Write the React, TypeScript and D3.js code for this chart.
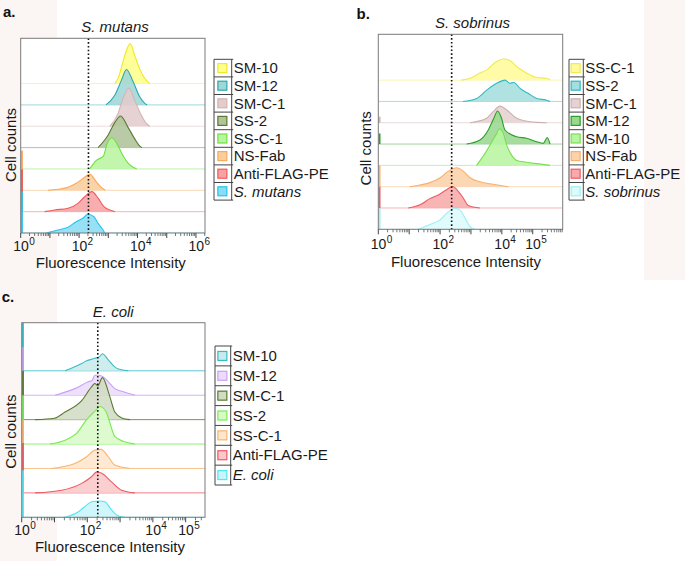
import React from "react";
import * as d3 from "d3";

type Pt = [number, number]; // [log10 fluorescence, cell count (row step = 100)]

// ---------- Panel a: S. mutans ----------
const mutansSeries = ["SM-10", "SM-12", "SM-C-1", "SS-2", "SS-C-1", "NS-Fab", "Anti-FLAG-PE", "S. mutans"];
const mutansCurves: Pt[][] = [
  [[3.22, 0], [3.33, 23], [3.5, 101], [3.62, 156], [3.75, 187], [3.9, 133], [4.07, 70], [4.25, 23], [4.42, 0]],
  [[2.92, 0], [3.22, 45], [3.45, 116], [3.62, 166], [3.85, 108], [4.08, 37], [4.25, 7], [4.33, 0]],
  [[3.05, 0], [3.33, 59], [3.5, 130], [3.71, 178], [3.9, 122], [4.13, 52], [4.3, 13], [4.42, 0]],
  [[2.65, 0], [2.99, 58], [3.22, 117], [3.42, 148], [3.67, 96], [3.9, 42], [4.08, 7], [4.15, 0]],
  [[2.36, 0], [2.59, 40], [2.83, 60], [2.95, 115], [3.12, 146], [3.35, 104], [3.52, 58], [3.69, 25], [3.97, 0]],
  [[0.93, 0], [1.28, 5], [1.62, 14], [1.9, 33], [2.19, 61], [2.36, 76], [2.59, 40], [2.76, 14], [2.9, 0]],
  [[0.82, 0], [1.16, 8], [1.62, 16], [1.96, 39], [2.19, 70], [2.44, 94], [2.65, 63], [2.85, 23], [3.1, 5], [3.22, 0]],
  [[0.88, 0], [1.28, 14], [1.62, 27], [1.9, 53], [2.02, 61], [2.13, 69], [2.3, 88], [2.51, 76], [2.65, 45], [2.82, 14], [2.88, 0]],
];
const mutansSpikes = [0, 0, 0, 0, 0, 187, 197, 193];
const mutansTickLabels = [0, 2, 4, 6];
const mutansFill = ["#ffff8c", "#9fd6d6", "#e3cccc", "#afc49a", "#b8f5a0", "#fbcd9c", "#f7a3a3", "#8adcf5"];
const mutansStroke = ["#ecea2a", "#2aa8b0", "#d4b4b4", "#5a7a30", "#70e040", "#f8aa5c", "#ef5a5a", "#22c4ee"];

// ---------- Panel b: S. sobrinus ----------
const sobrinusSeries = ["SS-C-1", "SS-2", "SM-C-1", "SM-12", "SM-10", "NS-Fab", "Anti-FLAG-PE", "S. sobrinus"];
const sobrinusCurves: Pt[][] = [
  [[2.7, 0], [2.97, 9], [3.29, 33], [3.51, 48], [3.83, 87], [4.05, 99], [4.26, 92], [4.48, 64], [4.8, 33], [5.13, 12], [5.45, 9], [5.56, 0]],
  [[2.74, 0], [3.18, 14], [3.51, 53], [3.83, 85], [4.1, 100], [4.26, 85], [4.39, 89], [4.59, 61], [4.85, 38], [5.13, 14], [5.45, 6], [5.56, 0]],
  [[2.97, 0], [3.51, 21], [3.72, 52], [3.94, 78], [4.16, 60], [4.48, 21], [4.91, 5], [5.45, 0]],
  [[2.86, 0], [3.29, 19], [3.56, 66], [3.74, 121], [3.86, 155], [3.99, 121], [4.1, 66], [4.48, 34], [4.8, 27], [5.13, 11], [5.34, 3], [5.47, 31], [5.56, 0]],
  [[3.18, 0], [3.45, 55], [3.61, 94], [3.83, 149], [3.92, 172], [4.05, 149], [4.16, 94], [4.32, 47], [4.48, 23], [4.8, 15], [5.13, 8], [5.56, 0]],
  [[1.02, 0], [1.35, 8], [1.67, 19], [2.0, 42], [2.27, 73], [2.54, 89], [2.75, 73], [2.97, 42], [3.29, 23], [3.72, 11], [4.21, 0]],
  [[0.97, 0], [1.35, 15], [1.67, 44], [2.0, 66], [2.21, 86], [2.41, 101], [2.59, 78], [2.75, 47], [2.91, 12], [3.29, 0]],
  [[1.28, 0], [1.67, 23], [2.0, 44], [2.21, 75], [2.48, 99], [2.64, 91], [2.81, 52], [2.97, 12], [3.13, 0]],
];
const sobrinusSpikes = [0, 0, 28, 50, 0, 100, 100, 100];
const sobrinusTickLabels = [0, 2, 4, 5];
const sobrinusFill = ["#fffa9a", "#a5dede", "#e6d2d2", "#9ad890", "#b8f5a0", "#fbd2aa", "#f8aaaa", "#dcfcfc"];
const sobrinusStroke = ["#f2ea50", "#30b8c4", "#cdb0b0", "#2aa02a", "#78e050", "#f8b070", "#ef5a64", "#9af0f5"];

// ---------- Panel c: E. coli ----------
const coliSeries = ["SM-10", "SM-12", "SM-C-1", "SS-2", "SS-C-1", "Anti-FLAG-PE", "E. coli"];
const coliCurves: Pt[][] = [
  [[1.32, 0], [1.83, 30], [1.98, 41], [2.23, 51], [2.39, 60], [2.46, 70], [2.64, 45], [2.82, 18], [2.95, 7], [3.25, 0]],
  [[1.02, 0], [1.62, 27], [2.03, 55], [2.15, 61], [2.23, 82], [2.34, 82], [2.49, 75], [2.64, 55], [2.84, 27], [3.05, 16], [3.45, 0]],
  [[0.41, 0], [1.0, 6], [1.32, 31], [1.83, 78], [2.13, 134], [2.23, 148], [2.32, 138], [2.46, 172], [2.69, 93], [2.84, 31], [3.05, 7], [3.3, 0]],
  [[0.86, 0], [1.32, 16], [1.68, 45], [1.98, 100], [2.23, 134], [2.39, 154], [2.59, 127], [2.69, 86], [2.84, 31], [3.1, 11], [3.45, 0]],
  [[0.91, 0], [1.62, 20], [1.98, 48], [2.23, 75], [2.42, 78], [2.64, 48], [2.84, 14], [3.3, 0]],
  [[0.41, 0], [1.22, 11], [1.83, 39], [2.13, 66], [2.29, 86], [2.44, 80], [2.74, 45], [3.05, 11], [3.45, 0]],
  [[1.32, 0], [1.73, 23], [1.98, 50], [2.13, 64], [2.39, 67], [2.54, 64], [2.74, 30], [2.95, 5], [3.15, 0]],
];
const coliSpikes = [197, 197, 200, 200, 197, 204, 193];
const coliTickLabels = [0, 2, 4, 5];
const coliFill = ["#c8eaea", "#ecdcfa", "#d2dcc3", "#d8fac8", "#ffe6cd", "#fac8c8", "#c8f5fa"];
const coliStroke = ["#35bcc8", "#c8a0f5", "#5a7a30", "#78eb50", "#f8b46e", "#ef5a64", "#50e6f5"];

const FONT = "'Liberation Sans', Arial, Helvetica, sans-serif";

interface PanelCfg {
  id: string;
  label: string;
  title: string;
  series: string[];
  curves: Pt[][];
  spikes: number[];
  ticks: number[];
  fill: string[];
  stroke: string[];
  left: number; right: number; top: number; bottom: number;
  xMax: number; yMax: number; gate: number;
  legX: number; legDiv: number; legY: number; legRow: number;
  titleX: number; titleY: number; labelX: number; labelY: number;
  xLabX: number; xLabY: number; yLabX: number; yLabY: number; tickY: number;
  baseOpacity: number;
}

const panels: PanelCfg[] = [
  {
    id: "a", label: "a.", title: "S. mutans", series: mutansSeries, curves: mutansCurves, spikes: mutansSpikes,
    ticks: mutansTickLabels, fill: mutansFill, stroke: mutansStroke,
    left: 20.7, right: 205, top: 38.3, bottom: 233, xMax: 6.31, yMax: 912, gate: 2.32,
    legX: 214, legDiv: 231.7, legY: 59.3, legRow: 17.6,
    titleX: 115, titleY: 31.5, labelX: 3, labelY: 16.5, xLabX: 110.8, xLabY: 267.5, yLabX: 15.5, yLabY: 145, tickY: 251,
    baseOpacity: 0.45,
  },
  {
    id: "b", label: "b.", title: "S. sobrinus", series: sobrinusSeries, curves: sobrinusCurves, spikes: sobrinusSpikes,
    ticks: sobrinusTickLabels, fill: sobrinusFill, stroke: sobrinusStroke,
    left: 378.3, right: 562.7, top: 34.3, bottom: 229.3, xMax: 5.97, yMax: 915, gate: 2.375,
    legX: 569, legDiv: 583.3, legY: 59.3, legRow: 17.6,
    titleX: 472.5, titleY: 28, labelX: 356.5, labelY: 18.5, xLabX: 466, xLabY: 267, yLabX: 371, yLabY: 148.3, tickY: 248.5,
    baseOpacity: 0.45,
  },
  {
    id: "c", label: "c.", title: "E. coli", series: coliSeries, curves: coliCurves, spikes: coliSpikes,
    ticks: coliTickLabels, fill: coliFill, stroke: coliStroke,
    left: 21.7, right: 205, top: 322.7, bottom: 517.3, xMax: 5.59, yMax: 797, gate: 2.32,
    legX: 215, legDiv: 230.7, legY: 346, legRow: 19.86,
    titleX: 113.3, titleY: 316.5, labelX: 1.7, labelY: 301.5, xLabX: 110, xLabY: 552, yLabX: 15.5, yLabY: 431.7, tickY: 535,
    baseOpacity: 0.8,
  },
];

function Panel({ cfg }: { cfg: PanelCfg }) {
  const x = d3.scaleLinear().domain([0, cfg.xMax]).range([cfg.left, cfg.right]);
  const y = d3.scaleLinear().domain([0, cfg.yMax]).range([cfg.bottom, cfg.top]);
  const n = cfg.series.length;
  const off = (i: number) => (n - 1 - i) * 100;

  const minor: number[] = [];
  for (let d = 0; d <= Math.floor(cfg.xMax); d++) {
    for (let k = 2; k <= 9; k++) {
      const v = d + Math.log10(k);
      if (v < cfg.xMax) minor.push(v);
    }
  }
  const major = d3.range(0, Math.floor(cfg.xMax) + 1);
  const clipId = `clip-${cfg.id}`;

  return (
    <g>
      <defs>
        <clipPath id={clipId}>
          <rect x={cfg.left} y={cfg.top} width={cfg.right - cfg.left} height={cfg.bottom - cfg.top} />
        </clipPath>
      </defs>
      <rect x={cfg.left} y={cfg.top} width={cfg.right - cfg.left} height={cfg.bottom - cfg.top} fill="#fff" />
      <g clipPath={`url(#${clipId})`}>
        {cfg.curves.map((pts, i) => {
          const o = off(i);
          const area = d3
            .area<Pt>()
            .x((d) => x(d[0]))
            .y0(y(o))
            .y1((d) => y(o + d[1]))
            .curve(d3.curveMonotoneX);
          const line = d3
            .line<Pt>()
            .x((d) => x(d[0]))
            .y((d) => y(o + d[1]))
            .curve(d3.curveMonotoneX);
          return (
            <g key={i}>
              <line x1={cfg.left} x2={cfg.right} y1={y(o)} y2={y(o)} stroke={cfg.stroke[i]} strokeOpacity={cfg.baseOpacity} strokeWidth={1} />
              <path d={area(pts) || ""} fill={cfg.fill[i]} fillOpacity={0.88} />
              <path d={line(pts) || ""} fill="none" stroke={cfg.stroke[i]} strokeWidth={1.1} />
              {cfg.spikes[i] > 0 && (
                <line x1={x(0) + 1.2} x2={x(0) + 1.2} y1={y(o)} y2={y(o + cfg.spikes[i])} stroke={cfg.stroke[i]} strokeWidth={2} />
              )}
            </g>
          );
        })}
      </g>
      <line x1={x(cfg.gate)} x2={x(cfg.gate)} y1={cfg.top} y2={cfg.bottom} stroke="#111" strokeWidth={1.6} strokeDasharray="1.6,2.2" />
      <rect x={cfg.left} y={cfg.top} width={cfg.right - cfg.left} height={cfg.bottom - cfg.top} fill="none" stroke="#7a7a7a" strokeWidth={1} />
      {major.map((v) => (
        <line key={"M" + v} x1={x(v)} x2={x(v)} y1={cfg.bottom} y2={cfg.bottom + 5} stroke="#444" strokeWidth={1} />
      ))}
      {minor.map((v, k) => (
        <line key={"m" + k} x1={x(v)} x2={x(v)} y1={cfg.bottom} y2={cfg.bottom + 3} stroke="#555" strokeWidth={0.8} />
      ))}
      {cfg.ticks.map((v) => (
        <g key={"t" + v}>
          <text x={x(v) + 0.3} y={cfg.tickY} textAnchor="middle" fontSize={14} fill="#1a1a1a" fontFamily={FONT}>
            10
          </text>
          <text x={x(v) + 8.5} y={cfg.tickY - 6} textAnchor="start" fontSize={10} fill="#1a1a1a" fontFamily={FONT}>
            {v}
          </text>
        </g>
      ))}
      <text x={cfg.xLabX} y={cfg.xLabY} textAnchor="middle" fontSize={15} fill="#1a1a1a" fontFamily={FONT}>
        Fluorescence Intensity
      </text>
      <text transform={`translate(${cfg.yLabX},${cfg.yLabY}) rotate(-90)`} textAnchor="middle" fontSize={15} fill="#1a1a1a" fontFamily={FONT}>
        Cell counts
      </text>
      <text x={cfg.titleX} y={cfg.titleY} textAnchor="middle" fontSize={15} fontStyle="italic" fill="#1a1a1a" fontFamily={FONT}>
        {cfg.title}
      </text>
      <text x={cfg.labelX} y={cfg.labelY} fontSize={15} fontWeight="bold" fill="#111" fontFamily={FONT}>
        {cfg.label}
      </text>
      {/* legend */}
      <g>
        <line x1={cfg.legX} x2={cfg.legX} y1={cfg.legY} y2={cfg.legY + n * cfg.legRow} stroke="#444" strokeWidth={1} />
        <line x1={cfg.legDiv} x2={cfg.legDiv} y1={cfg.legY} y2={cfg.legY + n * cfg.legRow} stroke="#444" strokeWidth={1} />
        {d3.range(n + 1).map((k) => (
          <line key={"h" + k} x1={cfg.legX} x2={cfg.legDiv + 1.5} y1={cfg.legY + k * cfg.legRow} y2={cfg.legY + k * cfg.legRow} stroke="#444" strokeWidth={1} />
        ))}
        {cfg.series.map((s, i) => {
          const cy = cfg.legY + (i + 0.5) * cfg.legRow;
          const cx = (cfg.legX + cfg.legDiv) / 2 - 0.5;
          const italic = i === n - 1;
          return (
            <g key={"l" + i}>
              <rect x={cx - 4.5} y={cy - 4.5} width={9} height={9} fill={cfg.fill[i]} stroke={cfg.stroke[i]} strokeWidth={1.2} />
              <text x={cfg.legDiv + 2} y={cy + 5.2} fontSize={15} fontStyle={italic ? "italic" : "normal"} fill="#1a1a1a" fontFamily={FONT}>
                {s}
              </text>
            </g>
          );
        })}
      </g>
    </g>
  );
}

export default function App() {
  return (
    <svg width={685} height={561} style={{ position: "absolute", left: 0, top: 0 }} xmlns="http://www.w3.org/2000/svg">
      <rect x={0} y={0} width={685} height={561} fill="#ffffff" />
      <rect x={0} y={0} width={57} height={561} fill="#fbf5f3" />
      <rect x={644} y={0} width={41} height={280} fill="#fbf5f3" />
      {panels.map((p) => (
        <Panel key={p.id} cfg={p} />
      ))}
    </svg>
  );
}
